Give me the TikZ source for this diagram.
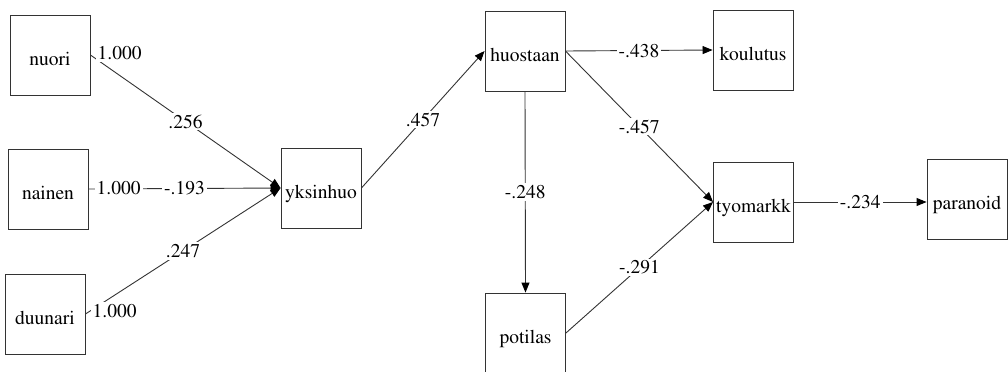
\documentclass[tikz,border=0pt]{standalone}
\usepackage[T1]{fontenc}
\usepackage{times}
\usetikzlibrary{arrows.meta}
\newcommand\diagfont{\fontsize{19.5bp}{22bp}\selectfont}
\begin{document}
\begin{tikzpicture}[x=1bp,y=-1bp,
  var/.style={draw=black!80, line width=0.9bp, minimum width=80bp, minimum height=80bp,
    inner sep=0pt, text height=20bp, text depth=0pt, font=\diagfont},
  coef/.style={fill=white, inner sep=2bp, font=\diagfont},
  effect/.style={draw=black!80, line width=0.9bp,
    -{Triangle[length=10bp,width=8bp,color=black]}}]
\useasboundingbox (0,0) rectangle (1008,371);

% observed variables
\node[var] (nuori)    at (50,55)    {nuori};
\node[var] (nainen)   at (48,189)   {nainen};
\node[var] (duunari)  at (45,314)   {duunari};
\node[var] (yksinhuo) at (321,188)  {yksinhuo};
\node[var] (huostaan) at (525,51)   {huostaan};
\node[var] (koulutus) at (753,50)   {koulutus};
\node[var] (tyomarkk) at (753.5,202) {tyomarkk};
\node[var] (paranoid) at (967,199)  {paranoid};
\node[var] (potilas)  at (525.5,333) {potilas};

% paths with standardized coefficients
\draw[effect] (nuori.east)    -- node[coef] {.256}  (yksinhuo.west);
\draw[effect] (nainen.east)   -- node[coef] {-.193} (yksinhuo.west);
\draw[effect] (duunari.east)  -- node[coef] {.247}  (yksinhuo.west);
\draw[effect] (yksinhuo.east) -- node[coef] {.457}  (huostaan.west);
\draw[effect] (huostaan.east) -- node[coef] {-.438} (koulutus.west);
\draw[effect] (huostaan.east) -- node[coef] {-.457} (tyomarkk.west);
\draw[effect] (huostaan.south) -- node[coef] {-.248} (potilas.north);
\draw[effect] (potilas.east)  -- node[coef] {-.291} (tyomarkk.west);
\draw[effect] (tyomarkk.east) -- node[coef] {-.234} (paranoid.west |- tyomarkk.east);

% fixed loadings at the exogenous variables
\node[coef, anchor=west] (lnuori)   at ([xshift=5bp,yshift=2bp]nuori.east)   {1.000};
\node[coef, anchor=west] (lnainen)  at ([xshift=6bp,yshift=1bp]nainen.east)  {1.000};
\node[coef, anchor=west] (lduunari) at ([xshift=5bp,yshift=3bp]duunari.east) {1.000};
\end{tikzpicture}
\end{document}
